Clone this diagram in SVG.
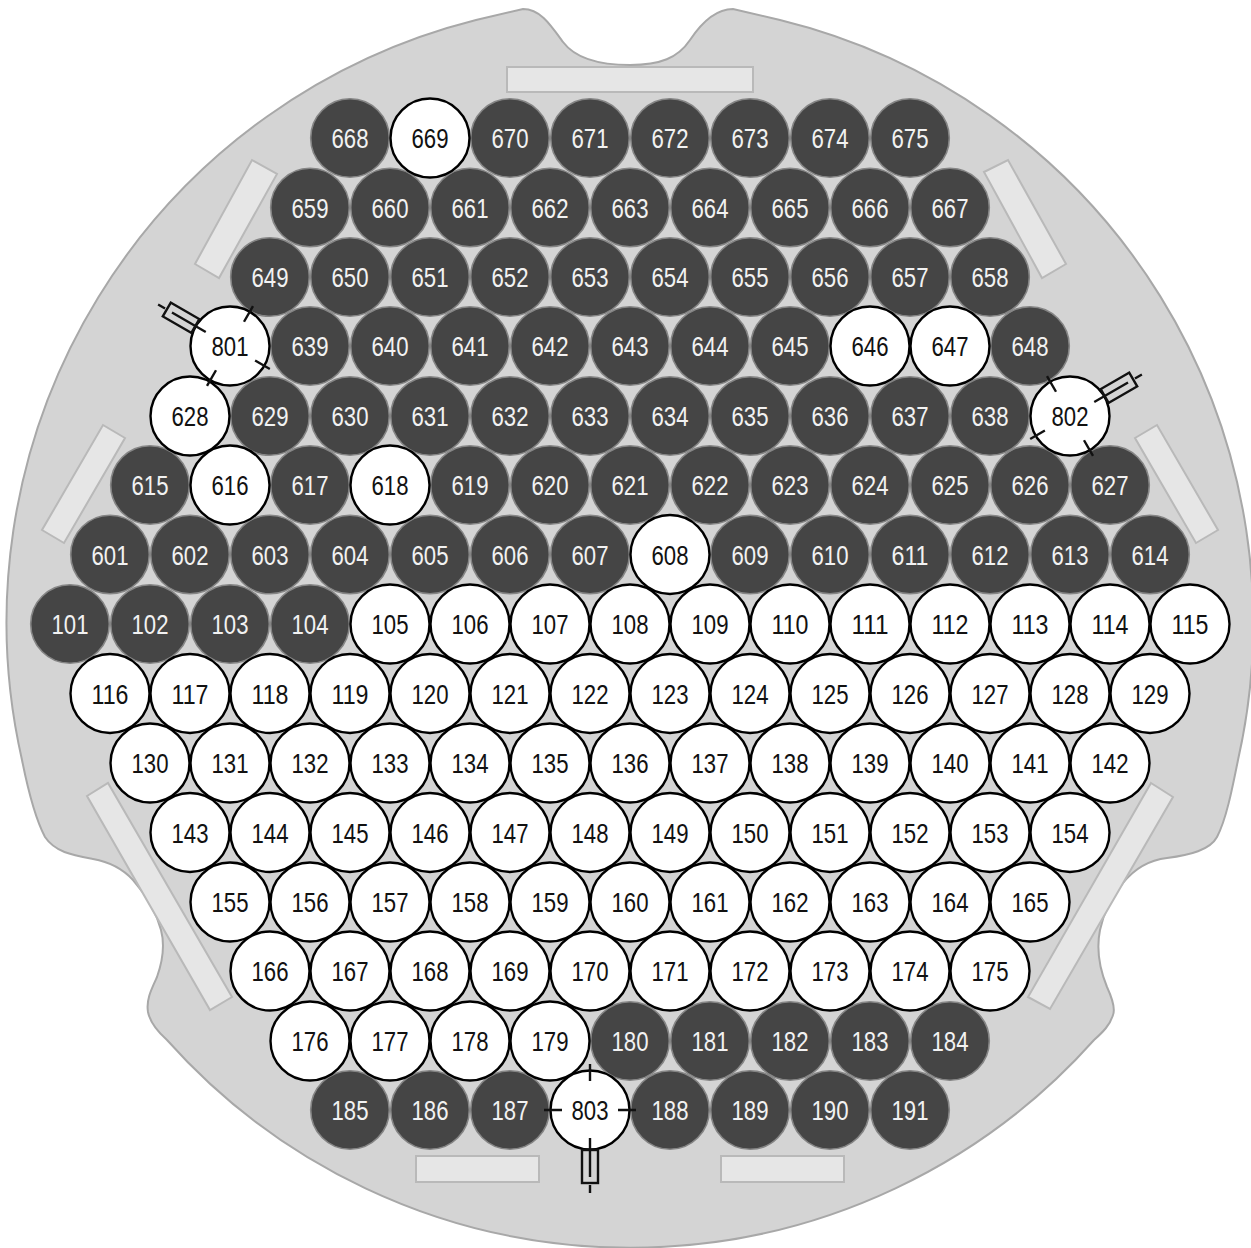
<svg xmlns="http://www.w3.org/2000/svg" width="1251" height="1248" viewBox="0 0 1251 1248">
<style>
text{font-family:"Liberation Sans",Arial,sans-serif;font-size:27.5px;text-anchor:middle}
.d circle{r:39.3px;fill:#454545;stroke:#858585;stroke-width:1.6}
.d text{fill:#f2f2f2}
.w circle{r:39.5px;fill:#fff;stroke:#000;stroke-width:2.4}
.w text{fill:#111}
.bar{fill:#e6e6e6;stroke:#b9b9b9;stroke-width:2}
.k{fill:none;stroke:#111;stroke-width:2.4}
</style>
<rect width="1251" height="1248" fill="#fff"/>
<path id="plate" d="M523 9C540 9 550 24 563 42C575 58 600 65 630 65C660 65 678 58 690 40C702 22 716 9 733 9L780 20A621 621 0 0 1 1238 760C1232 790 1226 820 1217 837C1210 850 1190 855 1167 858C1150 860 1135 868 1123 883C1112 897 1103 915 1100 930C1096 950 1100 970 1107 987C1113 1000 1115 1010 1113 1015C1110 1025 1103 1032 1094 1040A621 621 0 0 1 167 1040C158 1032 150 1022 148 1012C146 1000 151 990 157 977C163 960 165 945 161 930C157 915 148 897 133 880C122 868 110 862 93 859C72 855 55 852 45 837C36 820 28 790 22 760A621 621 0 0 1 476 20Z" fill="#d4d4d4" stroke="#a8a8a8" stroke-width="2"/>
<g id="bars">
<rect class="bar" x="507" y="67" width="246" height="25"/>
<rect class="bar" x="416" y="1156" width="123" height="26"/>
<rect class="bar" x="721" y="1156" width="123" height="26"/>
<polygon class="bar" points="252,160 277,174 219,278 195,264"/>
<polygon class="bar" points="984,172 1008,160 1066,264 1042,278"/>
<polygon class="bar" points="103,425 125,438 64,543 42,530"/>
<polygon class="bar" points="1157,425 1135,438 1196,543 1218,530"/>
<polygon class="bar" points="87,796 108,783 232,997 210,1010"/>
<polygon class="bar" points="1151,783 1173,797 1050,1009 1028,997"/>
</g>
<defs>
<g id="probe">
<path class="k" d="M0 -46V-29M-46 0H-28M46 0H28M0 28V67M0 75V83"/>
<rect class="k" x="-8" y="40" width="16" height="33"/>
</g>
</defs>
<g id="dark" class="d" transform="translate(0 -1)">
<g id="n668"><circle cx="350" cy="139"/><text x="350" y="149" textLength="37" lengthAdjust="spacingAndGlyphs">668</text></g>
<g id="n670"><circle cx="510" cy="139"/><text x="510" y="149" textLength="37" lengthAdjust="spacingAndGlyphs">670</text></g>
<g id="n671"><circle cx="590" cy="139"/><text x="590" y="149" textLength="37" lengthAdjust="spacingAndGlyphs">671</text></g>
<g id="n672"><circle cx="670" cy="139"/><text x="670" y="149" textLength="37" lengthAdjust="spacingAndGlyphs">672</text></g>
<g id="n673"><circle cx="750" cy="139"/><text x="750" y="149" textLength="37" lengthAdjust="spacingAndGlyphs">673</text></g>
<g id="n674"><circle cx="830" cy="139"/><text x="830" y="149" textLength="37" lengthAdjust="spacingAndGlyphs">674</text></g>
<g id="n675"><circle cx="910" cy="139"/><text x="910" y="149" textLength="37" lengthAdjust="spacingAndGlyphs">675</text></g>
<g id="n659"><circle cx="310" cy="208.5"/><text x="310" y="218.5" textLength="37" lengthAdjust="spacingAndGlyphs">659</text></g>
<g id="n660"><circle cx="390" cy="208.5"/><text x="390" y="218.5" textLength="37" lengthAdjust="spacingAndGlyphs">660</text></g>
<g id="n661"><circle cx="470" cy="208.5"/><text x="470" y="218.5" textLength="37" lengthAdjust="spacingAndGlyphs">661</text></g>
<g id="n662"><circle cx="550" cy="208.5"/><text x="550" y="218.5" textLength="37" lengthAdjust="spacingAndGlyphs">662</text></g>
<g id="n663"><circle cx="630" cy="208.5"/><text x="630" y="218.5" textLength="37" lengthAdjust="spacingAndGlyphs">663</text></g>
<g id="n664"><circle cx="710" cy="208.5"/><text x="710" y="218.5" textLength="37" lengthAdjust="spacingAndGlyphs">664</text></g>
<g id="n665"><circle cx="790" cy="208.5"/><text x="790" y="218.5" textLength="37" lengthAdjust="spacingAndGlyphs">665</text></g>
<g id="n666"><circle cx="870" cy="208.5"/><text x="870" y="218.5" textLength="37" lengthAdjust="spacingAndGlyphs">666</text></g>
<g id="n667"><circle cx="950" cy="208.5"/><text x="950" y="218.5" textLength="37" lengthAdjust="spacingAndGlyphs">667</text></g>
<g id="n649"><circle cx="270" cy="278"/><text x="270" y="288" textLength="37" lengthAdjust="spacingAndGlyphs">649</text></g>
<g id="n650"><circle cx="350" cy="278"/><text x="350" y="288" textLength="37" lengthAdjust="spacingAndGlyphs">650</text></g>
<g id="n651"><circle cx="430" cy="278"/><text x="430" y="288" textLength="37" lengthAdjust="spacingAndGlyphs">651</text></g>
<g id="n652"><circle cx="510" cy="278"/><text x="510" y="288" textLength="37" lengthAdjust="spacingAndGlyphs">652</text></g>
<g id="n653"><circle cx="590" cy="278"/><text x="590" y="288" textLength="37" lengthAdjust="spacingAndGlyphs">653</text></g>
<g id="n654"><circle cx="670" cy="278"/><text x="670" y="288" textLength="37" lengthAdjust="spacingAndGlyphs">654</text></g>
<g id="n655"><circle cx="750" cy="278"/><text x="750" y="288" textLength="37" lengthAdjust="spacingAndGlyphs">655</text></g>
<g id="n656"><circle cx="830" cy="278"/><text x="830" y="288" textLength="37" lengthAdjust="spacingAndGlyphs">656</text></g>
<g id="n657"><circle cx="910" cy="278"/><text x="910" y="288" textLength="37" lengthAdjust="spacingAndGlyphs">657</text></g>
<g id="n658"><circle cx="990" cy="278"/><text x="990" y="288" textLength="37" lengthAdjust="spacingAndGlyphs">658</text></g>
<g id="n639"><circle cx="310" cy="347"/><text x="310" y="357" textLength="37" lengthAdjust="spacingAndGlyphs">639</text></g>
<g id="n640"><circle cx="390" cy="347"/><text x="390" y="357" textLength="37" lengthAdjust="spacingAndGlyphs">640</text></g>
<g id="n641"><circle cx="470" cy="347"/><text x="470" y="357" textLength="37" lengthAdjust="spacingAndGlyphs">641</text></g>
<g id="n642"><circle cx="550" cy="347"/><text x="550" y="357" textLength="37" lengthAdjust="spacingAndGlyphs">642</text></g>
<g id="n643"><circle cx="630" cy="347"/><text x="630" y="357" textLength="37" lengthAdjust="spacingAndGlyphs">643</text></g>
<g id="n644"><circle cx="710" cy="347"/><text x="710" y="357" textLength="37" lengthAdjust="spacingAndGlyphs">644</text></g>
<g id="n645"><circle cx="790" cy="347"/><text x="790" y="357" textLength="37" lengthAdjust="spacingAndGlyphs">645</text></g>
<g id="n648"><circle cx="1030" cy="347"/><text x="1030" y="357" textLength="37" lengthAdjust="spacingAndGlyphs">648</text></g>
<g id="n629"><circle cx="270" cy="417"/><text x="270" y="427" textLength="37" lengthAdjust="spacingAndGlyphs">629</text></g>
<g id="n630"><circle cx="350" cy="417"/><text x="350" y="427" textLength="37" lengthAdjust="spacingAndGlyphs">630</text></g>
<g id="n631"><circle cx="430" cy="417"/><text x="430" y="427" textLength="37" lengthAdjust="spacingAndGlyphs">631</text></g>
<g id="n632"><circle cx="510" cy="417"/><text x="510" y="427" textLength="37" lengthAdjust="spacingAndGlyphs">632</text></g>
<g id="n633"><circle cx="590" cy="417"/><text x="590" y="427" textLength="37" lengthAdjust="spacingAndGlyphs">633</text></g>
<g id="n634"><circle cx="670" cy="417"/><text x="670" y="427" textLength="37" lengthAdjust="spacingAndGlyphs">634</text></g>
<g id="n635"><circle cx="750" cy="417"/><text x="750" y="427" textLength="37" lengthAdjust="spacingAndGlyphs">635</text></g>
<g id="n636"><circle cx="830" cy="417"/><text x="830" y="427" textLength="37" lengthAdjust="spacingAndGlyphs">636</text></g>
<g id="n637"><circle cx="910" cy="417"/><text x="910" y="427" textLength="37" lengthAdjust="spacingAndGlyphs">637</text></g>
<g id="n638"><circle cx="990" cy="417"/><text x="990" y="427" textLength="37" lengthAdjust="spacingAndGlyphs">638</text></g>
<g id="n615"><circle cx="150" cy="486"/><text x="150" y="496" textLength="37" lengthAdjust="spacingAndGlyphs">615</text></g>
<g id="n617"><circle cx="310" cy="486"/><text x="310" y="496" textLength="37" lengthAdjust="spacingAndGlyphs">617</text></g>
<g id="n619"><circle cx="470" cy="486"/><text x="470" y="496" textLength="37" lengthAdjust="spacingAndGlyphs">619</text></g>
<g id="n620"><circle cx="550" cy="486"/><text x="550" y="496" textLength="37" lengthAdjust="spacingAndGlyphs">620</text></g>
<g id="n621"><circle cx="630" cy="486"/><text x="630" y="496" textLength="37" lengthAdjust="spacingAndGlyphs">621</text></g>
<g id="n622"><circle cx="710" cy="486"/><text x="710" y="496" textLength="37" lengthAdjust="spacingAndGlyphs">622</text></g>
<g id="n623"><circle cx="790" cy="486"/><text x="790" y="496" textLength="37" lengthAdjust="spacingAndGlyphs">623</text></g>
<g id="n624"><circle cx="870" cy="486"/><text x="870" y="496" textLength="37" lengthAdjust="spacingAndGlyphs">624</text></g>
<g id="n625"><circle cx="950" cy="486"/><text x="950" y="496" textLength="37" lengthAdjust="spacingAndGlyphs">625</text></g>
<g id="n626"><circle cx="1030" cy="486"/><text x="1030" y="496" textLength="37" lengthAdjust="spacingAndGlyphs">626</text></g>
<g id="n627"><circle cx="1110" cy="486"/><text x="1110" y="496" textLength="37" lengthAdjust="spacingAndGlyphs">627</text></g>
<g id="n601"><circle cx="110" cy="555.5"/><text x="110" y="565.5" textLength="37" lengthAdjust="spacingAndGlyphs">601</text></g>
<g id="n602"><circle cx="190" cy="555.5"/><text x="190" y="565.5" textLength="37" lengthAdjust="spacingAndGlyphs">602</text></g>
<g id="n603"><circle cx="270" cy="555.5"/><text x="270" y="565.5" textLength="37" lengthAdjust="spacingAndGlyphs">603</text></g>
<g id="n604"><circle cx="350" cy="555.5"/><text x="350" y="565.5" textLength="37" lengthAdjust="spacingAndGlyphs">604</text></g>
<g id="n605"><circle cx="430" cy="555.5"/><text x="430" y="565.5" textLength="37" lengthAdjust="spacingAndGlyphs">605</text></g>
<g id="n606"><circle cx="510" cy="555.5"/><text x="510" y="565.5" textLength="37" lengthAdjust="spacingAndGlyphs">606</text></g>
<g id="n607"><circle cx="590" cy="555.5"/><text x="590" y="565.5" textLength="37" lengthAdjust="spacingAndGlyphs">607</text></g>
<g id="n609"><circle cx="750" cy="555.5"/><text x="750" y="565.5" textLength="37" lengthAdjust="spacingAndGlyphs">609</text></g>
<g id="n610"><circle cx="830" cy="555.5"/><text x="830" y="565.5" textLength="37" lengthAdjust="spacingAndGlyphs">610</text></g>
<g id="n611"><circle cx="910" cy="555.5"/><text x="910" y="565.5" textLength="37" lengthAdjust="spacingAndGlyphs">611</text></g>
<g id="n612"><circle cx="990" cy="555.5"/><text x="990" y="565.5" textLength="37" lengthAdjust="spacingAndGlyphs">612</text></g>
<g id="n613"><circle cx="1070" cy="555.5"/><text x="1070" y="565.5" textLength="37" lengthAdjust="spacingAndGlyphs">613</text></g>
<g id="n614"><circle cx="1150" cy="555.5"/><text x="1150" y="565.5" textLength="37" lengthAdjust="spacingAndGlyphs">614</text></g>
<g id="n101"><circle cx="70" cy="625"/><text x="70" y="635" textLength="37" lengthAdjust="spacingAndGlyphs">101</text></g>
<g id="n102"><circle cx="150" cy="625"/><text x="150" y="635" textLength="37" lengthAdjust="spacingAndGlyphs">102</text></g>
<g id="n103"><circle cx="230" cy="625"/><text x="230" y="635" textLength="37" lengthAdjust="spacingAndGlyphs">103</text></g>
<g id="n104"><circle cx="310" cy="625"/><text x="310" y="635" textLength="37" lengthAdjust="spacingAndGlyphs">104</text></g>
<g id="n180"><circle cx="630" cy="1042"/><text x="630" y="1052" textLength="37" lengthAdjust="spacingAndGlyphs">180</text></g>
<g id="n181"><circle cx="710" cy="1042"/><text x="710" y="1052" textLength="37" lengthAdjust="spacingAndGlyphs">181</text></g>
<g id="n182"><circle cx="790" cy="1042"/><text x="790" y="1052" textLength="37" lengthAdjust="spacingAndGlyphs">182</text></g>
<g id="n183"><circle cx="870" cy="1042"/><text x="870" y="1052" textLength="37" lengthAdjust="spacingAndGlyphs">183</text></g>
<g id="n184"><circle cx="950" cy="1042"/><text x="950" y="1052" textLength="37" lengthAdjust="spacingAndGlyphs">184</text></g>
<g id="n185"><circle cx="350" cy="1111"/><text x="350" y="1121" textLength="37" lengthAdjust="spacingAndGlyphs">185</text></g>
<g id="n186"><circle cx="430" cy="1111"/><text x="430" y="1121" textLength="37" lengthAdjust="spacingAndGlyphs">186</text></g>
<g id="n187"><circle cx="510" cy="1111"/><text x="510" y="1121" textLength="37" lengthAdjust="spacingAndGlyphs">187</text></g>
<g id="n188"><circle cx="670" cy="1111"/><text x="670" y="1121" textLength="37" lengthAdjust="spacingAndGlyphs">188</text></g>
<g id="n189"><circle cx="750" cy="1111"/><text x="750" y="1121" textLength="37" lengthAdjust="spacingAndGlyphs">189</text></g>
<g id="n190"><circle cx="830" cy="1111"/><text x="830" y="1121" textLength="37" lengthAdjust="spacingAndGlyphs">190</text></g>
<g id="n191"><circle cx="910" cy="1111"/><text x="910" y="1121" textLength="37" lengthAdjust="spacingAndGlyphs">191</text></g>
</g>
<g id="white" class="w" transform="translate(0 -1)">
<g id="n669"><circle cx="430" cy="139"/><text x="430" y="149" textLength="37" lengthAdjust="spacingAndGlyphs">669</text></g>
<g id="n646"><circle cx="870" cy="347"/><text x="870" y="357" textLength="37" lengthAdjust="spacingAndGlyphs">646</text></g>
<g id="n647"><circle cx="950" cy="347"/><text x="950" y="357" textLength="37" lengthAdjust="spacingAndGlyphs">647</text></g>
<g id="n628"><circle cx="190" cy="417"/><text x="190" y="427" textLength="37" lengthAdjust="spacingAndGlyphs">628</text></g>
<g id="n616"><circle cx="230" cy="486"/><text x="230" y="496" textLength="37" lengthAdjust="spacingAndGlyphs">616</text></g>
<g id="n618"><circle cx="390" cy="486"/><text x="390" y="496" textLength="37" lengthAdjust="spacingAndGlyphs">618</text></g>
<g id="n608"><circle cx="670" cy="555.5"/><text x="670" y="565.5" textLength="37" lengthAdjust="spacingAndGlyphs">608</text></g>
<g id="n105"><circle cx="390" cy="625"/><text x="390" y="635" textLength="37" lengthAdjust="spacingAndGlyphs">105</text></g>
<g id="n106"><circle cx="470" cy="625"/><text x="470" y="635" textLength="37" lengthAdjust="spacingAndGlyphs">106</text></g>
<g id="n107"><circle cx="550" cy="625"/><text x="550" y="635" textLength="37" lengthAdjust="spacingAndGlyphs">107</text></g>
<g id="n108"><circle cx="630" cy="625"/><text x="630" y="635" textLength="37" lengthAdjust="spacingAndGlyphs">108</text></g>
<g id="n109"><circle cx="710" cy="625"/><text x="710" y="635" textLength="37" lengthAdjust="spacingAndGlyphs">109</text></g>
<g id="n110"><circle cx="790" cy="625"/><text x="790" y="635" textLength="37" lengthAdjust="spacingAndGlyphs">110</text></g>
<g id="n111"><circle cx="870" cy="625"/><text x="870" y="635" textLength="37" lengthAdjust="spacingAndGlyphs">111</text></g>
<g id="n112"><circle cx="950" cy="625"/><text x="950" y="635" textLength="37" lengthAdjust="spacingAndGlyphs">112</text></g>
<g id="n113"><circle cx="1030" cy="625"/><text x="1030" y="635" textLength="37" lengthAdjust="spacingAndGlyphs">113</text></g>
<g id="n114"><circle cx="1110" cy="625"/><text x="1110" y="635" textLength="37" lengthAdjust="spacingAndGlyphs">114</text></g>
<g id="n115"><circle cx="1190" cy="625"/><text x="1190" y="635" textLength="37" lengthAdjust="spacingAndGlyphs">115</text></g>
<g id="n116"><circle cx="110" cy="694.5"/><text x="110" y="704.5" textLength="37" lengthAdjust="spacingAndGlyphs">116</text></g>
<g id="n117"><circle cx="190" cy="694.5"/><text x="190" y="704.5" textLength="37" lengthAdjust="spacingAndGlyphs">117</text></g>
<g id="n118"><circle cx="270" cy="694.5"/><text x="270" y="704.5" textLength="37" lengthAdjust="spacingAndGlyphs">118</text></g>
<g id="n119"><circle cx="350" cy="694.5"/><text x="350" y="704.5" textLength="37" lengthAdjust="spacingAndGlyphs">119</text></g>
<g id="n120"><circle cx="430" cy="694.5"/><text x="430" y="704.5" textLength="37" lengthAdjust="spacingAndGlyphs">120</text></g>
<g id="n121"><circle cx="510" cy="694.5"/><text x="510" y="704.5" textLength="37" lengthAdjust="spacingAndGlyphs">121</text></g>
<g id="n122"><circle cx="590" cy="694.5"/><text x="590" y="704.5" textLength="37" lengthAdjust="spacingAndGlyphs">122</text></g>
<g id="n123"><circle cx="670" cy="694.5"/><text x="670" y="704.5" textLength="37" lengthAdjust="spacingAndGlyphs">123</text></g>
<g id="n124"><circle cx="750" cy="694.5"/><text x="750" y="704.5" textLength="37" lengthAdjust="spacingAndGlyphs">124</text></g>
<g id="n125"><circle cx="830" cy="694.5"/><text x="830" y="704.5" textLength="37" lengthAdjust="spacingAndGlyphs">125</text></g>
<g id="n126"><circle cx="910" cy="694.5"/><text x="910" y="704.5" textLength="37" lengthAdjust="spacingAndGlyphs">126</text></g>
<g id="n127"><circle cx="990" cy="694.5"/><text x="990" y="704.5" textLength="37" lengthAdjust="spacingAndGlyphs">127</text></g>
<g id="n128"><circle cx="1070" cy="694.5"/><text x="1070" y="704.5" textLength="37" lengthAdjust="spacingAndGlyphs">128</text></g>
<g id="n129"><circle cx="1150" cy="694.5"/><text x="1150" y="704.5" textLength="37" lengthAdjust="spacingAndGlyphs">129</text></g>
<g id="n130"><circle cx="150" cy="764"/><text x="150" y="774" textLength="37" lengthAdjust="spacingAndGlyphs">130</text></g>
<g id="n131"><circle cx="230" cy="764"/><text x="230" y="774" textLength="37" lengthAdjust="spacingAndGlyphs">131</text></g>
<g id="n132"><circle cx="310" cy="764"/><text x="310" y="774" textLength="37" lengthAdjust="spacingAndGlyphs">132</text></g>
<g id="n133"><circle cx="390" cy="764"/><text x="390" y="774" textLength="37" lengthAdjust="spacingAndGlyphs">133</text></g>
<g id="n134"><circle cx="470" cy="764"/><text x="470" y="774" textLength="37" lengthAdjust="spacingAndGlyphs">134</text></g>
<g id="n135"><circle cx="550" cy="764"/><text x="550" y="774" textLength="37" lengthAdjust="spacingAndGlyphs">135</text></g>
<g id="n136"><circle cx="630" cy="764"/><text x="630" y="774" textLength="37" lengthAdjust="spacingAndGlyphs">136</text></g>
<g id="n137"><circle cx="710" cy="764"/><text x="710" y="774" textLength="37" lengthAdjust="spacingAndGlyphs">137</text></g>
<g id="n138"><circle cx="790" cy="764"/><text x="790" y="774" textLength="37" lengthAdjust="spacingAndGlyphs">138</text></g>
<g id="n139"><circle cx="870" cy="764"/><text x="870" y="774" textLength="37" lengthAdjust="spacingAndGlyphs">139</text></g>
<g id="n140"><circle cx="950" cy="764"/><text x="950" y="774" textLength="37" lengthAdjust="spacingAndGlyphs">140</text></g>
<g id="n141"><circle cx="1030" cy="764"/><text x="1030" y="774" textLength="37" lengthAdjust="spacingAndGlyphs">141</text></g>
<g id="n142"><circle cx="1110" cy="764"/><text x="1110" y="774" textLength="37" lengthAdjust="spacingAndGlyphs">142</text></g>
<g id="n143"><circle cx="190" cy="833.5"/><text x="190" y="843.5" textLength="37" lengthAdjust="spacingAndGlyphs">143</text></g>
<g id="n144"><circle cx="270" cy="833.5"/><text x="270" y="843.5" textLength="37" lengthAdjust="spacingAndGlyphs">144</text></g>
<g id="n145"><circle cx="350" cy="833.5"/><text x="350" y="843.5" textLength="37" lengthAdjust="spacingAndGlyphs">145</text></g>
<g id="n146"><circle cx="430" cy="833.5"/><text x="430" y="843.5" textLength="37" lengthAdjust="spacingAndGlyphs">146</text></g>
<g id="n147"><circle cx="510" cy="833.5"/><text x="510" y="843.5" textLength="37" lengthAdjust="spacingAndGlyphs">147</text></g>
<g id="n148"><circle cx="590" cy="833.5"/><text x="590" y="843.5" textLength="37" lengthAdjust="spacingAndGlyphs">148</text></g>
<g id="n149"><circle cx="670" cy="833.5"/><text x="670" y="843.5" textLength="37" lengthAdjust="spacingAndGlyphs">149</text></g>
<g id="n150"><circle cx="750" cy="833.5"/><text x="750" y="843.5" textLength="37" lengthAdjust="spacingAndGlyphs">150</text></g>
<g id="n151"><circle cx="830" cy="833.5"/><text x="830" y="843.5" textLength="37" lengthAdjust="spacingAndGlyphs">151</text></g>
<g id="n152"><circle cx="910" cy="833.5"/><text x="910" y="843.5" textLength="37" lengthAdjust="spacingAndGlyphs">152</text></g>
<g id="n153"><circle cx="990" cy="833.5"/><text x="990" y="843.5" textLength="37" lengthAdjust="spacingAndGlyphs">153</text></g>
<g id="n154"><circle cx="1070" cy="833.5"/><text x="1070" y="843.5" textLength="37" lengthAdjust="spacingAndGlyphs">154</text></g>
<g id="n155"><circle cx="230" cy="903"/><text x="230" y="913" textLength="37" lengthAdjust="spacingAndGlyphs">155</text></g>
<g id="n156"><circle cx="310" cy="903"/><text x="310" y="913" textLength="37" lengthAdjust="spacingAndGlyphs">156</text></g>
<g id="n157"><circle cx="390" cy="903"/><text x="390" y="913" textLength="37" lengthAdjust="spacingAndGlyphs">157</text></g>
<g id="n158"><circle cx="470" cy="903"/><text x="470" y="913" textLength="37" lengthAdjust="spacingAndGlyphs">158</text></g>
<g id="n159"><circle cx="550" cy="903"/><text x="550" y="913" textLength="37" lengthAdjust="spacingAndGlyphs">159</text></g>
<g id="n160"><circle cx="630" cy="903"/><text x="630" y="913" textLength="37" lengthAdjust="spacingAndGlyphs">160</text></g>
<g id="n161"><circle cx="710" cy="903"/><text x="710" y="913" textLength="37" lengthAdjust="spacingAndGlyphs">161</text></g>
<g id="n162"><circle cx="790" cy="903"/><text x="790" y="913" textLength="37" lengthAdjust="spacingAndGlyphs">162</text></g>
<g id="n163"><circle cx="870" cy="903"/><text x="870" y="913" textLength="37" lengthAdjust="spacingAndGlyphs">163</text></g>
<g id="n164"><circle cx="950" cy="903"/><text x="950" y="913" textLength="37" lengthAdjust="spacingAndGlyphs">164</text></g>
<g id="n165"><circle cx="1030" cy="903"/><text x="1030" y="913" textLength="37" lengthAdjust="spacingAndGlyphs">165</text></g>
<g id="n166"><circle cx="270" cy="972"/><text x="270" y="982" textLength="37" lengthAdjust="spacingAndGlyphs">166</text></g>
<g id="n167"><circle cx="350" cy="972"/><text x="350" y="982" textLength="37" lengthAdjust="spacingAndGlyphs">167</text></g>
<g id="n168"><circle cx="430" cy="972"/><text x="430" y="982" textLength="37" lengthAdjust="spacingAndGlyphs">168</text></g>
<g id="n169"><circle cx="510" cy="972"/><text x="510" y="982" textLength="37" lengthAdjust="spacingAndGlyphs">169</text></g>
<g id="n170"><circle cx="590" cy="972"/><text x="590" y="982" textLength="37" lengthAdjust="spacingAndGlyphs">170</text></g>
<g id="n171"><circle cx="670" cy="972"/><text x="670" y="982" textLength="37" lengthAdjust="spacingAndGlyphs">171</text></g>
<g id="n172"><circle cx="750" cy="972"/><text x="750" y="982" textLength="37" lengthAdjust="spacingAndGlyphs">172</text></g>
<g id="n173"><circle cx="830" cy="972"/><text x="830" y="982" textLength="37" lengthAdjust="spacingAndGlyphs">173</text></g>
<g id="n174"><circle cx="910" cy="972"/><text x="910" y="982" textLength="37" lengthAdjust="spacingAndGlyphs">174</text></g>
<g id="n175"><circle cx="990" cy="972"/><text x="990" y="982" textLength="37" lengthAdjust="spacingAndGlyphs">175</text></g>
<g id="n176"><circle cx="310" cy="1042"/><text x="310" y="1052" textLength="37" lengthAdjust="spacingAndGlyphs">176</text></g>
<g id="n177"><circle cx="390" cy="1042"/><text x="390" y="1052" textLength="37" lengthAdjust="spacingAndGlyphs">177</text></g>
<g id="n178"><circle cx="470" cy="1042"/><text x="470" y="1052" textLength="37" lengthAdjust="spacingAndGlyphs">178</text></g>
<g id="n179"><circle cx="550" cy="1042"/><text x="550" y="1052" textLength="37" lengthAdjust="spacingAndGlyphs">179</text></g>
<g id="n801"><circle cx="230" cy="347"/><use href="#probe" transform="translate(230 347) rotate(120)"/><text x="230" y="357" textLength="37" lengthAdjust="spacingAndGlyphs">801</text></g>
<g id="n802"><circle cx="1070" cy="417"/><use href="#probe" transform="translate(1070 417) rotate(-120)"/><text x="1070" y="427" textLength="37" lengthAdjust="spacingAndGlyphs">802</text></g>
<g id="n803"><circle cx="590" cy="1111"/><use href="#probe" transform="translate(590 1111)"/><text x="590" y="1121" textLength="37" lengthAdjust="spacingAndGlyphs">803</text></g>
</g>
</svg>
